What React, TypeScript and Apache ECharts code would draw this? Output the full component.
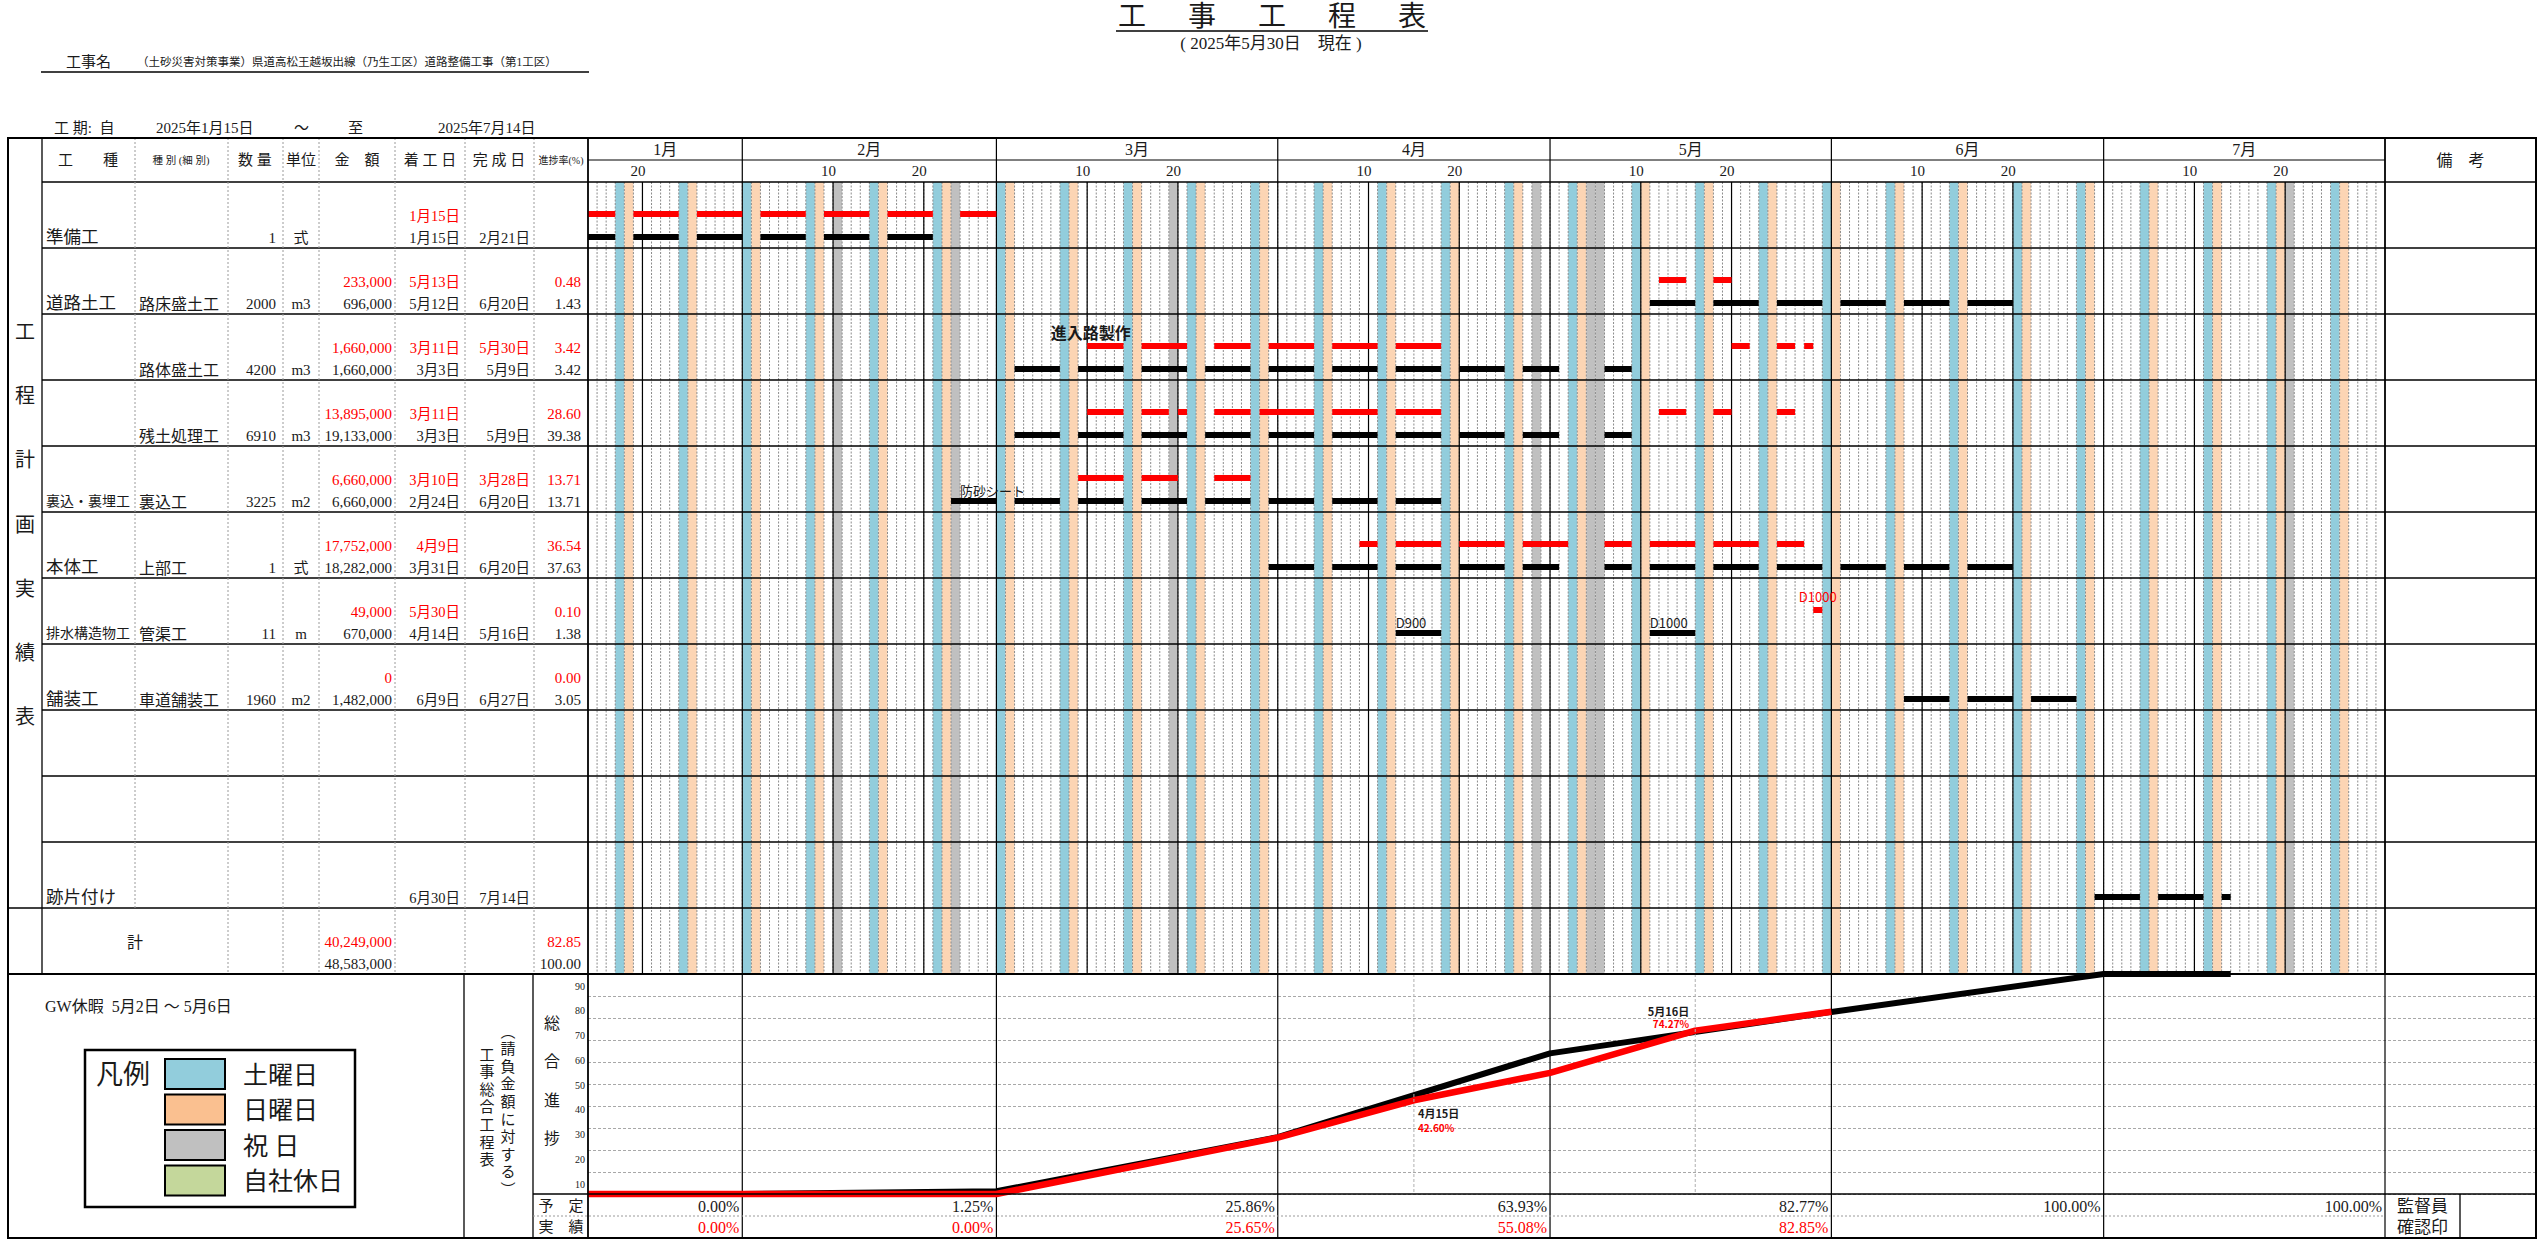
import React, { useEffect, useRef } from 'react';
import * as echarts from 'echarts';

// ---------------- data ----------------
const YEAR = 2025;
const FIRST_DAY = '1/15';
const LAST_DAY = '7/31';
const MONTH_LABELS = ['1月', '2月', '3月', '4月', '5月', '6月', '7月'];
const MONTH_STARTS = ['1/15', '2/1', '3/1', '4/1', '5/1', '6/1', '7/1'];
const MONTH_ENDS = ['1/31', '2/28', '3/31', '4/30', '5/31', '6/30', '7/31'];
const DAY_TICKS = ['1/20', '2/10', '2/20', '3/10', '3/20', '4/10', '4/20', '5/10', '5/20', '6/10', '6/20', '7/10', '7/20'];
const HOLIDAYS = ['2/11', '2/24', '3/20', '4/29', '5/5', '5/6', '7/21'];

const WORK_NAMES = ['準備工', '道路土工', '', '', '裏込・裏埋工', '本体工', '排水構造物工', '舗装工', '', '', '跡片付け'];
const SUB_NAMES = ['', '路床盛土工', '路体盛土工', '残土処理工', '裏込工', '上部工', '管渠工', '車道舗装工', '', '', ''];
const QUANTITIES = ['1', '2000', '4200', '6910', '3225', '1', '11', '1960', '', '', ''];
const UNITS = ['式', 'm3', 'm3', 'm3', 'm2', '式', 'm', 'm2', '', '', ''];
const AMOUNT_ACTUAL = ['', '233,000', '1,660,000', '13,895,000', '6,660,000', '17,752,000', '49,000', '0', '', '', ''];
const AMOUNT_PLAN = ['', '696,000', '1,660,000', '19,133,000', '6,660,000', '18,282,000', '670,000', '1,482,000', '', '', ''];
const START_ACTUAL = ['1月15日', '5月13日', '3月11日', '3月11日', '3月10日', '4月9日', '5月30日', '', '', '', ''];
const START_PLAN = ['1月15日', '5月12日', '3月3日', '3月3日', '2月24日', '3月31日', '4月14日', '6月9日', '', '', '6月30日'];
const END_ACTUAL = ['', '', '5月30日', '', '3月28日', '', '', '', '', '', ''];
const END_PLAN = ['2月21日', '6月20日', '5月9日', '5月9日', '6月20日', '6月20日', '5月16日', '6月27日', '', '', '7月14日'];
const RATE_ACTUAL = ['', '0.48', '3.42', '28.60', '13.71', '36.54', '0.10', '0.00', '', '', ''];
const RATE_PLAN = ['', '1.43', '3.42', '39.38', '13.71', '37.63', '1.38', '3.05', '', '', ''];
const TOTAL_AMOUNT = ['40,249,000', '48,583,000'];
const TOTAL_RATE = ['82.85', '100.00'];

// actual (red) work segments per row, inclusive day ranges
const ACTUAL_BARS = [
  ['1/15-1/17', '1/20-1/24', '1/27-1/31', '2/3-2/7', '2/10-2/14', '2/17-2/21', '2/25-2/28'],
  ['5/13-5/15', '5/19-5/20'],
  ['3/11-3/14', '3/17-3/21', '3/25-3/28', '3/31-4/4', '4/7-4/11', '4/14-4/18', '5/21-5/22', '5/26-5/27', '5/29-5/29'],
  ['3/11-3/14', '3/17-3/19', '3/21-3/21', '3/25-3/28', '3/30-4/4', '4/7-4/11', '4/14-4/18', '5/13-5/15', '5/19-5/20', '5/26-5/27'],
  ['3/10-3/14', '3/17-3/20', '3/25-3/28'],
  ['4/10-4/11', '4/14-4/18', '4/21-4/25', '4/28-5/2', '5/7-5/9', '5/12-5/16', '5/19-5/23', '5/26-5/28'],
  ['5/30-5/30'],
  [], [], [], [],
];
// planned (black) segments per row
const PLAN_BARS = [
  ['1/15-1/17', '1/20-1/24', '1/27-1/31', '2/3-2/7', '2/10-2/14', '2/17-2/21'],
  ['5/12-5/16', '5/19-5/23', '5/26-5/30', '6/2-6/6', '6/9-6/13', '6/16-6/20'],
  ['3/3-3/7', '3/10-3/14', '3/17-3/21', '3/24-3/28', '3/31-4/4', '4/7-4/11', '4/14-4/18', '4/21-4/25', '4/28-5/1', '5/7-5/9'],
  ['3/3-3/7', '3/10-3/14', '3/17-3/21', '3/24-3/28', '3/31-4/4', '4/7-4/11', '4/14-4/18', '4/21-4/25', '4/28-5/1', '5/7-5/9'],
  ['2/24-2/28', '3/3-3/7', '3/10-3/14', '3/17-3/21', '3/24-3/28', '3/31-4/4', '4/7-4/11', '4/14-4/18'],
  ['3/31-4/4', '4/7-4/11', '4/14-4/18', '4/21-4/25', '4/28-5/1', '5/7-5/9', '5/12-5/16', '5/19-5/23', '5/26-5/30', '6/2-6/6', '6/9-6/13', '6/16-6/20'],
  ['4/14-4/18', '5/12-5/16'],
  ['6/9-6/13', '6/16-6/20', '6/23-6/27'],
  [], [],
  ['6/30-7/4', '7/7-7/11', '7/14-7/14'],
];

const NOTE_TEXTS = ['進入路製作', '防砂シート', 'D900', 'D1000', 'D1000'];
const NOTE_ROWS = [2, 4, 6, 6, 6];
const NOTE_DATES = ['3/7', '2/25', '4/14', '5/12', '5/30'];
const NOTE_IS_ACTUAL = [false, false, false, false, true];

const PLAN_CURVE_DATES = ['1/14', '1/31', '2/28', '3/31', '4/30', '5/31', '6/30', '7/14'];
const PLAN_CURVE_PCT = [0, 0, 1.25, 25.86, 63.93, 82.77, 100, 100];
const ACTUAL_CURVE_DATES = ['1/14', '2/28', '3/31', '4/15', '4/30', '5/16', '5/31'];
const ACTUAL_CURVE_PCT = [0, 0, 25.65, 42.6, 55.08, 74.27, 82.85];
const PLAN_MONTH_PCT = ['0.00%', '1.25%', '25.86%', '63.93%', '82.77%', '100.00%', '100.00%'];
const ACTUAL_MONTH_PCT = ['0.00%', '0.00%', '25.65%', '55.08%', '82.85%', '', ''];
const CURVE_NOTE_DATES = ['4/15', '5/16'];
const CURVE_NOTE_LABELS = ['4月15日', '5月16日'];
const CURVE_NOTE_PCT = [42.6, 74.27];
const Y_TICK_LABELS = ['90', '80', '70', '60', '50', '40', '30', '20', '10'];

const LEGEND_LABELS = ['土曜日', '日曜日', '祝 日', '自社休日'];

// ---------------- helpers ----------------
const DAY_MS = 86400000;
const BASE = Date.UTC(YEAR, 0, 15);
function toIdx(s: string) {
  const [m, d] = s.split('/').map(Number);
  return Math.round((Date.UTC(YEAR, m - 1, d) - BASE) / DAY_MS);
}
const TOTAL_DAYS = toIdx(LAST_DAY) + 1 - toIdx(FIRST_DAY);

// ---------------- style / layout ----------------
const SERIF = "'Liberation Serif', 'Noto Sans CJK JP', serif";
const SANS = "'Noto Sans CJK JP', 'Noto Sans', sans-serif";
const INK = '#1a1a1a';
const RED = '#FF0000';
const SAT = '#92CDDC';
const SUN = '#FCD5B4';
const HOL = '#C0C0C0';
const LEGEND_COLORS = ['#92CDDC', '#FAC090', '#C0C0C0', '#C4D79B'];

const LX = 8, RX = 2536, TOP = 138, MONTH_B = 160, HEAD_B = 182, ROW_H = 66, ROWS = 12;
const GL = 588, GR = 2385, BODY_B = HEAD_B + ROWS * ROW_H; // 974
const CURVE_B = 1194, PLAN_ROW_B = 1216, BOTTOM = 1238;
const COLS = [LX, 42, 135, 228, 283, 319, 395, 465, 534, GL];
const ACT_LANE = 32 / ROW_H;
const PLAN_LANE = 55 / ROW_H;

function txt(text: string, x: number, y: number, o: any = {}) {
  return {
    type: 'text', z: 30, silent: true,
    style: {
      text, x, y,
      fill: o.color || INK,
      fontSize: o.size || 15,
      fontFamily: o.family || SERIF,
      fontWeight: o.weight || 'normal',
      textAlign: o.align || 'left',
      textVerticalAlign: 'middle',
    },
  };
}
// vertical (one char per line) text as a single multi-line element
function vtxt(text: string, x: number, yFirst: number, step: number, o: any = {}) {
  return {
    type: 'text', z: 30, silent: true,
    style: {
      text: text.split('').join('\n'), x, y: yFirst - step / 2,
      fill: o.color || INK,
      fontSize: o.size || 15,
      fontFamily: o.family || SERIF,
      lineHeight: step,
      textAlign: 'center',
      textVerticalAlign: 'top',
    },
  };
}
function ln(x1: number, y1: number, x2: number, y2: number, o: any = {}) {
  const style: any = { stroke: o.color || '#000', lineWidth: o.w || 1 };
  if (o.dash) style.lineDash = o.dash;
  return { type: 'line', z: 25, silent: true, shape: { x1, y1, x2, y2 }, style };
}
const dotted = { color: '#9a9a9a', dash: [2, 2] };

function buildGraphic() {
  const el: any[] = [];
  // title
  const titleChars = ['工', '事', '工', '程', '表'];
  titleChars.forEach((c, i) => el.push(txt(c, 1132 + i * 70, 16, { size: 28, align: 'center' })));
  el.push(ln(1116, 31, 1428, 31, { w: 1.5 }));
  el.push(txt('( 2025年5月30日　現在 )', 1271, 43, { size: 17, align: 'center' }));
  el.push(txt('工事名', 66, 62, { size: 15 }));
  el.push(txt('（土砂災害対策事業）県道高松王越坂出線（乃生工区）道路整備工事（第1工区）', 137, 62, { size: 11.5 }));
  el.push(ln(41, 72, 589, 72, { w: 1.5 }));
  el.push(txt('工 期:  自', 54, 128, { size: 15 }));
  el.push(txt('2025年1月15日', 156, 128, { size: 15 }));
  el.push(txt('～', 294, 128, { size: 15 }));
  el.push(txt('至', 348, 128, { size: 15 }));
  el.push(txt('2025年7月14日', 438, 128, { size: 15 }));

  // table frame
  el.push({ type: 'rect', z: 26, silent: true, shape: { x: LX, y: TOP, width: RX - LX, height: BOTTOM - TOP }, style: { fill: 'none', stroke: '#000', lineWidth: 2 } });
  el.push(ln(GL, MONTH_B, GR, MONTH_B));
  el.push(ln(COLS[1], HEAD_B, RX, HEAD_B, { w: 1.5 }));
  for (let r = 1; r <= 10; r++) el.push(ln(COLS[1], HEAD_B + r * ROW_H, RX, HEAD_B + r * ROW_H, { w: 1.3 }));
  el.push(ln(LX, HEAD_B + 11 * ROW_H, RX, HEAD_B + 11 * ROW_H, { w: 1.3 }));
  el.push(ln(LX, BODY_B, RX, BODY_B, { w: 2 }));
  el.push(ln(COLS[1], TOP, COLS[1], BODY_B, { w: 1.3 }));
  el.push(ln(COLS[2], TOP, COLS[2], HEAD_B + 11 * ROW_H, dotted));
  for (let c = 3; c <= 8; c++) el.push(ln(COLS[c], TOP, COLS[c], BODY_B, dotted));
  el.push(ln(GL, TOP, GL, BOTTOM, { w: 1.5 }));
  el.push(ln(GR, TOP, GR, BODY_B, { w: 1.5 }));

  // header texts
  const hy = 160;
  el.push(txt('工　　種', 88, hy, { size: 15, align: 'center' }));
  el.push(txt('種 別 (細 別)', 181, hy, { size: 10.5, align: 'center' }));
  el.push(txt('数 量', 255, hy, { size: 15, align: 'center' }));
  el.push(txt('単位', 301, hy, { size: 15, align: 'center' }));
  el.push(txt('金　額', 357, hy, { size: 15, align: 'center' }));
  el.push(txt('着 工 日', 430, hy, { size: 15, align: 'center' }));
  el.push(txt('完 成 日', 499, hy, { size: 15, align: 'center' }));
  el.push(txt('進捗率(%)', 561, hy, { size: 10, align: 'center' }));
  el.push(txt('備　考', (GR + RX) / 2, hy, { size: 16, align: 'center' }));

  // vertical title
  el.push(vtxt('工程計画実績表', 25, 332, 64.2, { size: 20 }));

  // rows
  for (let r = 0; r < 11; r++) {
    const top = HEAD_B + r * ROW_H;
    const ya = top + 34, yp = top + 56;
    const name = WORK_NAMES[r];
    if (name) el.push(txt(name, 46, top + 55, { size: name.length >= 6 ? 14 : 17.5 }));
    if (SUB_NAMES[r]) el.push(txt(SUB_NAMES[r], 139, yp, { size: 16 }));
    if (QUANTITIES[r]) el.push(txt(QUANTITIES[r], 276, yp, { align: 'right' }));
    if (UNITS[r]) el.push(txt(UNITS[r], 301, yp, { align: 'center' }));
    if (AMOUNT_ACTUAL[r]) el.push(txt(AMOUNT_ACTUAL[r], 392, ya, { align: 'right', color: RED }));
    if (AMOUNT_PLAN[r]) el.push(txt(AMOUNT_PLAN[r], 392, yp, { align: 'right' }));
    if (START_ACTUAL[r]) el.push(txt(START_ACTUAL[r], 460, ya, { align: 'right', color: RED, size: 14.5 }));
    if (START_PLAN[r]) el.push(txt(START_PLAN[r], 460, yp, { align: 'right', size: 14.5 }));
    if (END_ACTUAL[r]) el.push(txt(END_ACTUAL[r], 530, ya, { align: 'right', color: RED, size: 14.5 }));
    if (END_PLAN[r]) el.push(txt(END_PLAN[r], 530, yp, { align: 'right', size: 14.5 }));
    if (RATE_ACTUAL[r]) el.push(txt(RATE_ACTUAL[r], 581, ya, { align: 'right', color: RED }));
    if (RATE_PLAN[r]) el.push(txt(RATE_PLAN[r], 581, yp, { align: 'right' }));
  }
  const tt = HEAD_B + 11 * ROW_H;
  el.push(txt('計', (COLS[1] + COLS[3]) / 2, tt + 34, { size: 16, align: 'center' }));
  el.push(txt(TOTAL_AMOUNT[0], 392, tt + 34, { align: 'right', color: RED }));
  el.push(txt(TOTAL_AMOUNT[1], 392, tt + 56, { align: 'right' }));
  el.push(txt(TOTAL_RATE[0], 581, tt + 34, { align: 'right', color: RED }));
  el.push(txt(TOTAL_RATE[1], 581, tt + 56, { align: 'right' }));

  // lower section structure
  el.push(ln(464, BODY_B, 464, BOTTOM, { w: 1.3 }));
  el.push(ln(533, BODY_B, 533, BOTTOM, { w: 1.3 }));
  el.push(ln(533, CURVE_B, RX, CURVE_B, { w: 1.5 }));
  el.push(ln(533, PLAN_ROW_B, GR, PLAN_ROW_B, dotted));
  el.push(ln(2460, CURVE_B, 2460, BOTTOM, { w: 1.3 }));
  el.push(txt('監督員', 2397, 1206, { size: 17 }));
  el.push(txt('確認印', 2397, 1227, { size: 17 }));
  el.push(txt('予　定', 561, 1206, { size: 15, align: 'center' }));
  el.push(txt('実　績', 561, 1227, { size: 15, align: 'center' }));
  el.push(vtxt('総合進捗', 552, 1023, 38.5, { size: 16 }));
  Y_TICK_LABELS.forEach((t, i) => el.push(txt(t, 585, 986 + i * 24.75, { size: 10, align: 'right' })));
  el.push(vtxt('︵請負金額に対する︶', 508, 1030, 17.6, { size: 15, family: SANS }));
  el.push(vtxt('工事総合工程表', 487, 1053, 17.6, { size: 15, family: SANS }));

  el.push(txt('GW休暇  5月2日 ～ 5月6日', 45, 1006, { size: 16 }));
  el.push({ type: 'rect', z: 26, silent: true, shape: { x: 85, y: 1050, width: 270, height: 157 }, style: { fill: '#fff', stroke: '#000', lineWidth: 2.5 } });
  el.push(txt('凡例', 96, 1075, { size: 27 }));
  LEGEND_LABELS.forEach((t, i) => {
    const y = 1059 + i * 35.5;
    el.push({ type: 'rect', z: 27, silent: true, shape: { x: 165, y, width: 60, height: 30 }, style: { fill: LEGEND_COLORS[i], stroke: '#000', lineWidth: 2 } });
    el.push(txt(t, 243, y + 16, { size: 25 }));
  });
  return el;
}

function buildOption() {
  const G = { left: GL, top: HEAD_B, width: GR - GL, height: ROWS * ROW_H };
  const G2 = { left: GL, top: BODY_B, width: RX - GL, height: CURVE_B - BODY_B };
  const x2Max = (TOTAL_DAYS * G2.width) / G.width;

  const calendar: number[][] = [];
  for (let i = 0; i < TOTAL_DAYS; i++) {
    const dt = new Date(BASE + i * DAY_MS);
    const key = `${dt.getUTCMonth() + 1}/${dt.getUTCDate()}`;
    const dow = dt.getUTCDay();
    const kind = dow === 6 ? 0 : dow === 0 ? 1 : HOLIDAYS.includes(key) ? 2 : -1;
    if (kind >= 0) calendar.push([i, kind]);
  }
  const dayLines: number[][] = [];
  for (let i = 1; i < TOTAL_DAYS; i++) dayLines.push([i, 0]);
  const monthBounds = MONTH_STARTS.map((d) => toIdx(d)).concat([toIdx(LAST_DAY) + 1]);
  const majors: number[][] = monthBounds.map((b) => [b, 0]).concat(DAY_TICKS.map((d) => [toIdx(d) + 1, 1]));

  const segs = (bars: string[][]) =>
    bars.flatMap((list, row) => list.map((s) => {
      const [a, b] = s.split('-');
      return [toIdx(a), toIdx(b) + 1, row];
    }));

  const barSeries = (data: number[][], lane: number, color: string) => ({
    type: 'custom', xAxisIndex: 0, yAxisIndex: 0, z: 6, silent: true, data,
    renderItem: (p: any, api: any) => {
      const a = api.coord([api.value(0), api.value(2) + lane]);
      const b = api.coord([api.value(1), api.value(2) + lane]);
      return { type: 'rect', shape: { x: a[0], y: a[1] - 3, width: b[0] - a[0], height: 6 }, style: { fill: color } };
    },
  });

  const colColors = [SAT, SUN, HOL];

  return {
    animation: false,
    backgroundColor: '#fff',
    grid: [
      { ...G, outerBoundsMode: 'none', containLabel: false },
      { ...G2, outerBoundsMode: 'none', containLabel: false },
    ],
    xAxis: [
      { type: 'value', gridIndex: 0, min: 0, max: TOTAL_DAYS, show: false },
      { type: 'value', gridIndex: 1, min: 0, max: x2Max, show: false },
    ],
    yAxis: [
      { type: 'value', gridIndex: 0, min: 0, max: ROWS, inverse: true, show: false },
      {
        type: 'value', gridIndex: 1, min: 0, max: 100, interval: 10,
        axisLine: { show: false }, axisTick: { show: false }, axisLabel: { show: false },
        splitLine: { show: true, lineStyle: { color: '#a8a8a8', width: 1, type: [3, 2] } },
      },
    ],
    graphic: { elements: buildGraphic() },
    series: [
      {
        type: 'custom', xAxisIndex: 0, yAxisIndex: 0, z: 1, silent: true, data: calendar,
        renderItem: (p: any, api: any) => {
          const a = api.coord([api.value(0), 0]);
          const b = api.coord([api.value(0) + 1, ROWS]);
          return { type: 'rect', shape: { x: a[0], y: a[1], width: b[0] - a[0], height: b[1] - a[1] }, style: { fill: colColors[api.value(1)] } };
        },
      },
      {
        type: 'custom', xAxisIndex: 0, yAxisIndex: 0, z: 2, silent: true, data: dayLines,
        renderItem: (p: any, api: any) => {
          const a = api.coord([api.value(0), 0]);
          const b = api.coord([api.value(0), ROWS]);
          return { type: 'line', shape: { x1: a[0], y1: a[1], x2: a[0], y2: b[1] }, style: { stroke: '#8c8c8c', lineWidth: 1, lineDash: [2, 1.5] } };
        },
      },
      {
        type: 'custom', xAxisIndex: 0, yAxisIndex: 0, z: 3, silent: true, data: majors,
        renderItem: (p: any, api: any) => {
          const a = api.coord([api.value(0), 0]);
          const b = api.coord([api.value(0), ROWS]);
          const y1 = api.value(1) === 0 ? a[1] - (HEAD_B - TOP) : a[1];
          return { type: 'line', shape: { x1: a[0], y1, x2: a[0], y2: b[1] }, style: { stroke: '#000', lineWidth: 1.2 } };
        },
      },
      {
        type: 'custom', xAxisIndex: 0, yAxisIndex: 0, z: 3, silent: true,
        data: MONTH_STARTS.map((d, i) => [toIdx(d), toIdx(MONTH_ENDS[i]) + 1]),
        renderItem: (p: any, api: any) => {
          const a = api.coord([api.value(0), 0]);
          const b = api.coord([api.value(1), 0]);
          return {
            type: 'text',
            style: { text: MONTH_LABELS[p.dataIndex], x: (a[0] + b[0]) / 2, y: a[1] - 33, fill: INK, fontSize: 16, fontFamily: SERIF, textAlign: 'center', textVerticalAlign: 'middle' },
          };
        },
      },
      {
        type: 'custom', xAxisIndex: 0, yAxisIndex: 0, z: 3, silent: true,
        data: DAY_TICKS.map((d) => [toIdx(d), 0]),
        renderItem: (p: any, api: any) => {
          const a = api.coord([api.value(0) + 0.5, 0]);
          return {
            type: 'text',
            style: { text: DAY_TICKS[p.dataIndex].split('/')[1], x: a[0], y: a[1] - 11, fill: INK, fontSize: 15, fontFamily: SERIF, textAlign: 'center', textVerticalAlign: 'middle' },
          };
        },
      },
      barSeries(segs(ACTUAL_BARS), ACT_LANE, RED),
      barSeries(segs(PLAN_BARS), PLAN_LANE, '#000'),
      {
        type: 'custom', xAxisIndex: 0, yAxisIndex: 0, z: 7, silent: true,
        data: NOTE_DATES.map((d, i) => [toIdx(d), NOTE_ROWS[i]]),
        renderItem: (p: any, api: any) => {
          const i = p.dataIndex;
          const act = NOTE_IS_ACTUAL[i];
          const big = i === 0;
          const lane = act || big ? 18 / ROW_H : 44 / ROW_H;
          const x = act ? api.value(0) + 0.5 : api.value(0);
          const a = api.coord([x, api.value(1) + lane]);
          return {
            type: 'text',
            style: {
              text: NOTE_TEXTS[i], x: a[0], y: a[1], fill: act ? RED : INK,
              fontSize: big ? 16 : 13, fontFamily: SANS, fontWeight: big ? 'bold' : 'normal',
              textAlign: act ? 'center' : 'left', textVerticalAlign: 'middle',
            },
          };
        },
      },
      // lower chart: month lines
      {
        type: 'custom', xAxisIndex: 1, yAxisIndex: 1, z: 3, silent: true,
        data: monthBounds.map((b) => [b, 0]),
        renderItem: (p: any, api: any) => {
          const a = api.coord([api.value(0), 100]);
          const b = api.coord([api.value(0), 0]);
          return { type: 'line', shape: { x1: a[0], y1: a[1], x2: a[0], y2: b[1] + (BOTTOM - CURVE_B) }, style: { stroke: '#000', lineWidth: 1.2 } };
        },
      },
      // lower chart: percentage table
      {
        type: 'custom', xAxisIndex: 1, yAxisIndex: 1, z: 5, silent: true,
        data: MONTH_ENDS.map((d) => [toIdx(d) + 1, 0]),
        renderItem: (p: any, api: any) => {
          const a = api.coord([api.value(0), 0]);
          const i = p.dataIndex;
          return {
            type: 'group',
            children: [
              { type: 'text', style: { text: PLAN_MONTH_PCT[i], x: a[0] - 3, y: a[1] + 12, fill: INK, fontSize: 16, fontFamily: SERIF, textAlign: 'right', textVerticalAlign: 'middle' } },
              { type: 'text', style: { text: ACTUAL_MONTH_PCT[i], x: a[0] - 3, y: a[1] + 33, fill: RED, fontSize: 16, fontFamily: SERIF, textAlign: 'right', textVerticalAlign: 'middle' } },
            ],
          };
        },
      },
      // lower chart: note markers
      {
        type: 'custom', xAxisIndex: 1, yAxisIndex: 1, z: 8, silent: true,
        data: CURVE_NOTE_DATES.map((d, i) => [toIdx(d) + 1, CURVE_NOTE_PCT[i]]),
        renderItem: (p: any, api: any) => {
          const i = p.dataIndex;
          const pt = api.coord([api.value(0), api.value(1)]);
          const top = api.coord([api.value(0), 100]);
          const bot = api.coord([api.value(0), 0]);
          const below = i === 0;
          const tx = below ? pt[0] + 4 : pt[0] - 6;
          const y1 = below ? pt[1] + 13 : pt[1] - 20;
          const y2 = below ? pt[1] + 27 : pt[1] - 7;
          const al = below ? 'left' : 'right';
          return {
            type: 'group',
            children: [
              { type: 'line', z2: -10, shape: { x1: pt[0], y1: top[1], x2: pt[0], y2: bot[1] }, style: { stroke: '#b0b0b0', lineWidth: 1, lineDash: [3, 2] } },
              { type: 'text', style: { text: CURVE_NOTE_LABELS[i], x: tx, y: y1, fill: INK, fontSize: 11, fontWeight: 'bold', fontFamily: SANS, textAlign: al, textVerticalAlign: 'middle' } },
              { type: 'text', style: { text: CURVE_NOTE_PCT[i].toFixed(2) + '%', x: tx, y: y2, fill: RED, fontSize: 10, fontWeight: 'bold', fontFamily: SANS, textAlign: al, textVerticalAlign: 'middle' } },
            ],
          };
        },
      },
      {
        type: 'line', xAxisIndex: 1, yAxisIndex: 1, z: 6, silent: true, clip: false,
        data: PLAN_CURVE_DATES.map((d, i) => [toIdx(d) + 1, PLAN_CURVE_PCT[i]]),
        symbol: 'none', lineStyle: { color: '#000', width: 6 },
      },
      {
        type: 'line', xAxisIndex: 1, yAxisIndex: 1, z: 7, silent: true, clip: false,
        data: ACTUAL_CURVE_DATES.map((d, i) => [toIdx(d) + 1, ACTUAL_CURVE_PCT[i]]),
        symbol: 'none', lineStyle: { color: RED, width: 6.5 },
      },
    ],
  };
}

export default function App() {
  const ref = useRef<HTMLDivElement>(null);
  useEffect(() => {
    if (!ref.current) return;
    const chart = echarts.init(ref.current, null, { renderer: 'svg' });
    chart.setOption(buildOption() as any);
    return () => chart.dispose();
  }, []);
  return (
    <div
      ref={ref}
      style={{ position: 'absolute', left: 0, top: 0, width: 2546, height: 1247, background: '#fff' }}
    />
  );
}
